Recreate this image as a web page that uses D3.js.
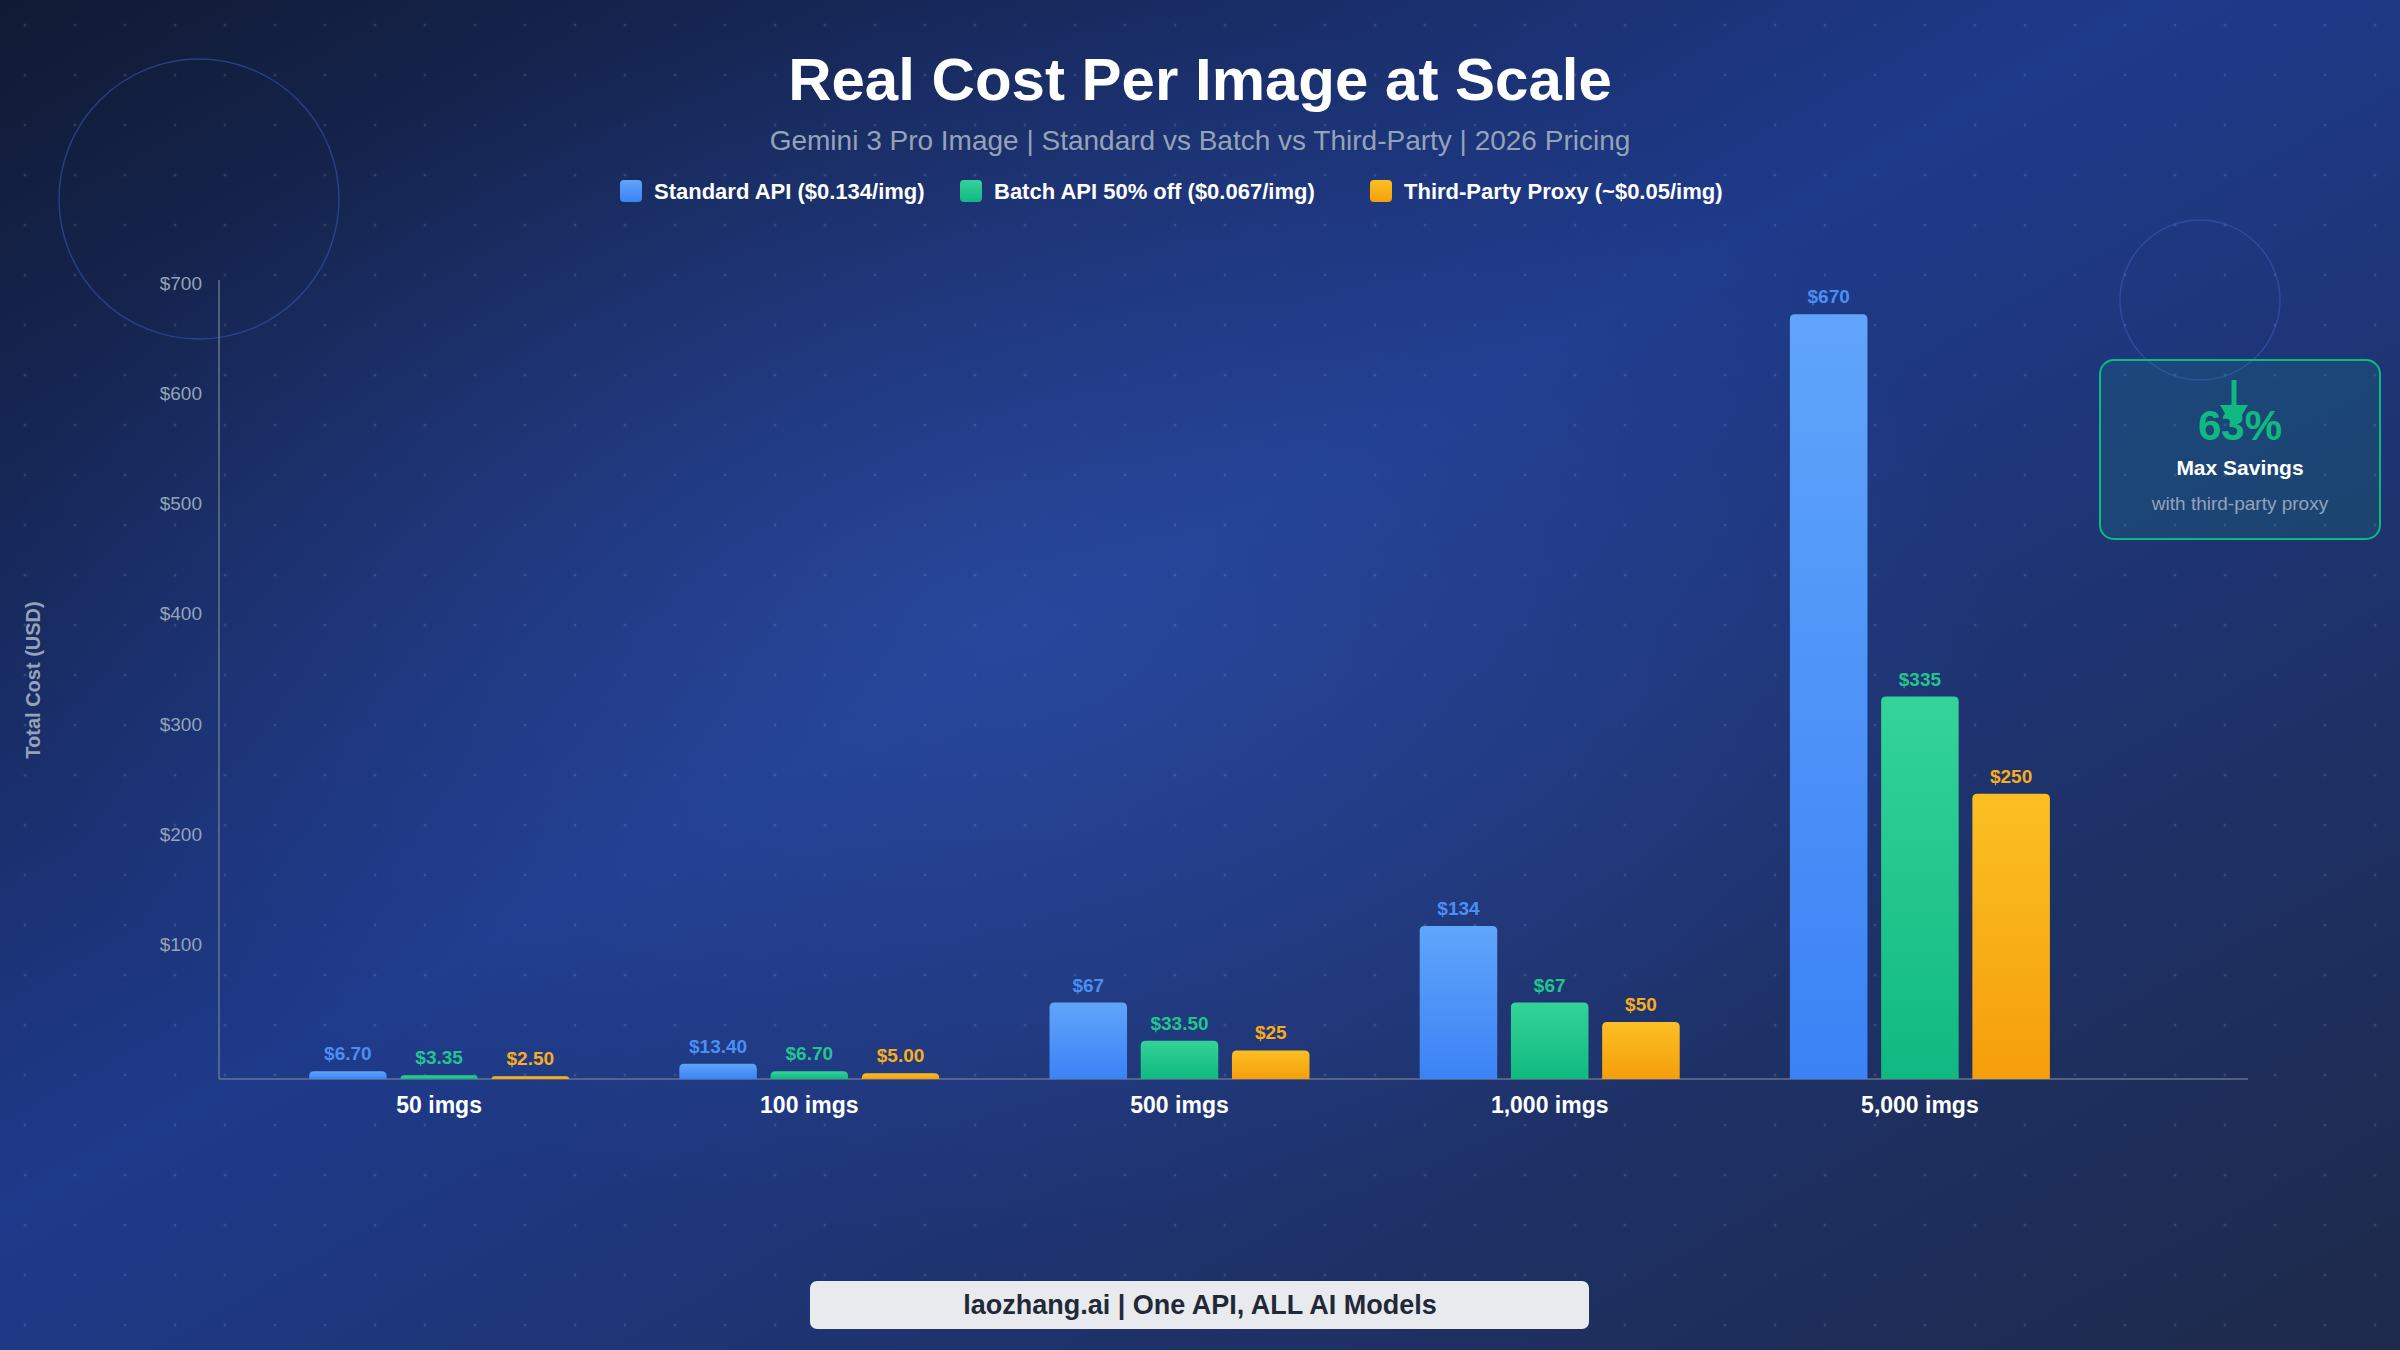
<!DOCTYPE html>
<html><head><meta charset="utf-8">
<script src="https://cdn.jsdelivr.net/npm/d3@7"></script>
<style>html,body{margin:0;padding:0;background:#0f172a;}svg{display:block;font-family:"Liberation Sans",Arial,sans-serif;}</style>
</head><body>
<script>
const categories = ["50 imgs","100 imgs","500 imgs","1,000 imgs","5,000 imgs"];
const seriesNames = ["Standard API ($0.134/img)","Batch API 50% off ($0.067/img)","Third-Party Proxy (~$0.05/img)"];
const standard = [6.70,13.40,67,134,670];
const batch = [3.35,6.70,33.50,67,335];
const proxy = [2.50,5.00,25,50,250];
const standardLabels = ["$6.70","$13.40","$67","$134","$670"];
const batchLabels = ["$3.35","$6.70","$33.50","$67","$335"];
const proxyLabels = ["$2.50","$5.00","$25","$50","$250"];
const yTicks = [100,200,300,400,500,600,700];

const W=2400,H=1350;
const svg=d3.select("body").append("svg").attr("width",W).attr("height",H);
const defs=svg.append("defs");
const bg=defs.append("linearGradient").attr("id","bg").attr("x1","0").attr("y1","0").attr("x2","1").attr("y2","1");
bg.append("stop").attr("offset","0").attr("stop-color","#111a33");
bg.append("stop").attr("offset","0.45").attr("stop-color","#1e3a8a");
bg.append("stop").attr("offset","1").attr("stop-color","#1e2a4a");
svg.append("rect").attr("width",W).attr("height",H).attr("fill","url(#bg)");
const rg=defs.append("radialGradient").attr("id","glow").attr("cx","0.5").attr("cy","0.5").attr("r","0.5");
rg.append("stop").attr("offset","0").attr("stop-color","#3b5fc0").attr("stop-opacity",0.35);
rg.append("stop").attr("offset","1").attr("stop-color","#3b5fc0").attr("stop-opacity",0);
svg.append("ellipse").attr("cx",1000).attr("cy",620).attr("rx",1000).attr("ry",620).attr("fill","url(#glow)");
const dots=svg.append("g").attr("fill","#ffffff").attr("opacity",0.12);
for(let x=25;x<W;x+=50)for(let y=25;y<H;y+=50)dots.append("circle").attr("cx",x).attr("cy",y).attr("r",1.5);
svg.append("circle").attr("cx",199).attr("cy",199).attr("r",140).attr("fill","none").attr("stroke","#3b5fc0").attr("stroke-opacity",0.5).attr("stroke-width",1.5);
svg.append("circle").attr("cx",2200).attr("cy",300).attr("r",80).attr("fill","none").attr("stroke","#3b5fc0").attr("stroke-opacity",0.5).attr("stroke-width",1.5);

svg.append("text").attr("x",1200).attr("y",100).attr("text-anchor","middle").attr("fill","#fff").attr("font-size",60).attr("font-weight","bold").text("Real Cost Per Image at Scale");
svg.append("text").attr("x",1200).attr("y",150).attr("text-anchor","middle").attr("fill","#94a3b8").attr("font-size",28).text("Gemini 3 Pro Image | Standard vs Batch vs Third-Party | 2026 Pricing");

const colors=[["#60a5fa","#3b82f6"],["#34d399","#10b981"],["#fbbf24","#f59e0b"]];
const labelColors=["#4b8ff5","#22c58e","#f8ad1c"];
colors.forEach((c,i)=>{const g=defs.append("linearGradient").attr("id","g"+i).attr("x1",0).attr("y1",0).attr("x2",0).attr("y2",1);
 g.append("stop").attr("offset",0).attr("stop-color",c[0]);g.append("stop").attr("offset",1).attr("stop-color",c[1]);});

const legX=[620,960,1370];
seriesNames.forEach((n,i)=>{
 svg.append("rect").attr("x",legX[i]).attr("y",180).attr("width",22).attr("height",22).attr("rx",4).attr("fill","url(#g"+i+")");
 svg.append("text").attr("x",legX[i]+34).attr("y",199).attr("fill","#fff").attr("font-size",22).attr("font-weight","bold").text(n);
});

const x0=d3.scaleBand().domain(categories).range([254,2105]);
const x1=d3.scaleBand().domain([0,1,2]).range([-130,130]).paddingInner(0.15);
const y=d3.scaleLinear().domain([0,700]).range([1079,280]);
const yTickScale=d3.scaleLinear().domain([0,700]).range([1055,283]);

svg.append("line").attr("x1",219).attr("x2",219).attr("y1",280).attr("y2",1079).attr("stroke","#64748b").attr("stroke-width",1.5);
svg.append("line").attr("x1",219).attr("x2",2248).attr("y1",1079).attr("y2",1079).attr("stroke","#64748b").attr("stroke-width",1.5);
const yAx=svg.append("g").attr("transform","translate(205,0)").call(d3.axisLeft(yTickScale).tickValues(yTicks).tickFormat(d=>"$"+d).tickSize(0));
yAx.select(".domain").remove();
yAx.selectAll("text").attr("fill","#94a3b8").attr("font-size",19).attr("font-family","Liberation Sans, Arial");
const xAx=svg.append("g").attr("transform","translate(0,1079)").call(d3.axisBottom(x0).tickSize(0).tickPadding(18));
xAx.select(".domain").remove();
xAx.selectAll("text").attr("fill","#fff").attr("font-size",23).attr("font-weight","bold").attr("font-family","Liberation Sans, Arial");
svg.append("text").attr("transform","translate(40,680) rotate(-90)").attr("text-anchor","middle").attr("fill","#94a3b8").attr("font-size",20).attr("font-weight","bold").text("Total Cost (USD)");

const series=[standard,batch,proxy], labels=[standardLabels,batchLabels,proxyLabels];
function topRounded(x,yT,w,h,r){r=Math.min(r,h,w/2);return `M${x},${yT+h}V${yT+r}Q${x},${yT} ${x+r},${yT}H${x+w-r}Q${x+w},${yT} ${x+w},${yT+r}V${yT+h}Z`;}
series.forEach((s,i)=>{
 categories.forEach((c,j)=>{
  const cx=x0(c)+x0.bandwidth()/2, bx=cx+x1(i), bw=x1.bandwidth(), yt=y(s[j]), h=y(0)-yt;
  svg.append("path").attr("d",topRounded(bx,yt,bw,h,5)).attr("fill","url(#g"+i+")");
  svg.append("text").attr("x",bx+bw/2).attr("y",yt-11).attr("text-anchor","middle").attr("fill",labelColors[i]).attr("font-size",19).attr("font-weight","bold").text(labels[i][j]);
 });
});

svg.append("rect").attr("x",2100).attr("y",360).attr("width",280).attr("height",179).attr("rx",14).attr("fill","#10b981").attr("fill-opacity",0.13).attr("stroke","#10b981").attr("stroke-width",2);
svg.append("text").attr("x",2240).attr("y",440).attr("text-anchor","middle").attr("fill","#10b981").attr("font-size",42).attr("font-weight","bold").text("63%");
svg.append("line").attr("x1",2234).attr("x2",2234).attr("y1",380).attr("y2",412).attr("stroke","#10b981").attr("stroke-width",5);
svg.append("path").attr("d","M2220,405 L2248,405 L2234,428 Z").attr("fill","#10b981");
svg.append("text").attr("x",2240).attr("y",475).attr("text-anchor","middle").attr("fill","#fff").attr("font-size",21).attr("font-weight","bold").text("Max Savings");
svg.append("text").attr("x",2240).attr("y",510).attr("text-anchor","middle").attr("fill","#94a3b8").attr("font-size",19).text("with third-party proxy");

svg.append("rect").attr("x",810).attr("y",1281).attr("width",779).attr("height",48).attr("rx",7).attr("fill","#e8eaee");
svg.append("text").attr("x",1200).attr("y",1314).attr("text-anchor","middle").attr("fill","#1f2937").attr("font-size",27).attr("font-weight","bold").text("laozhang.ai | One API, ALL AI Models");
</script>
</body></html>
